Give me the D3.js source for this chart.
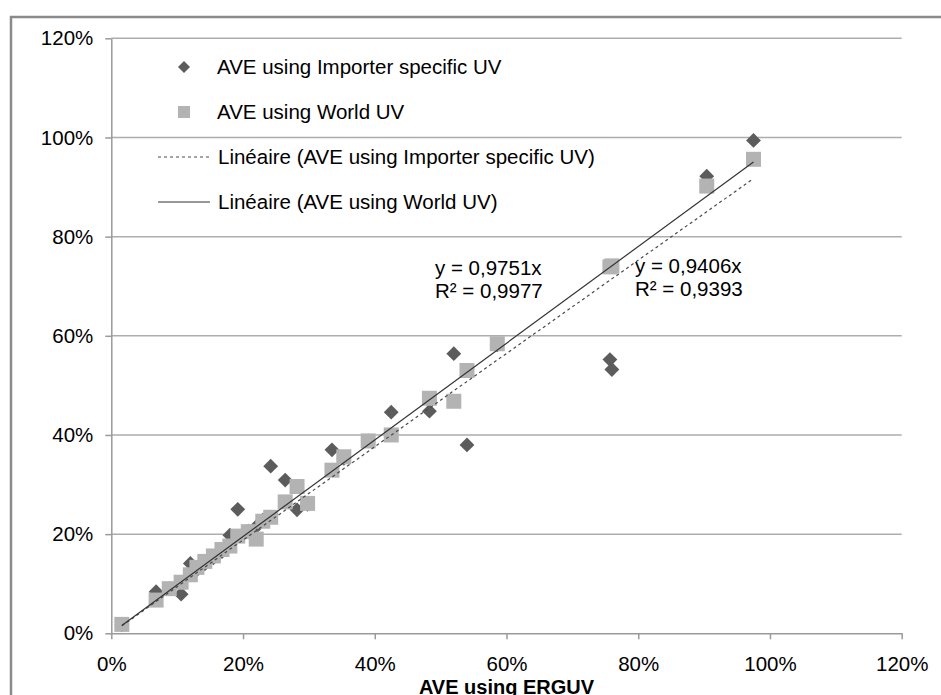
<!DOCTYPE html>
<html>
<head>
<meta charset="utf-8">
<script src="https://cdn.jsdelivr.net/npm/d3@7"></script>
<style>
  body { margin: 0; background: #fff; }
  text { font-family: "Liberation Sans", Arial, sans-serif; fill: #000; }
</style>
</head>
<body>
<script>
// ERGUV based AVE (x) and the two alternative AVEs (y), in %
const erguv      = [1.6, 6.8, 8.8, 10.6, 12.0, 13.0, 14.2, 15.5, 16.8, 18.0, 19.2, 20.8, 22.0, 23.0, 24.2, 26.4, 28.2, 29.8, 33.5, 35.3, 39.0, 42.5, 48.3, 52.0, 54.0, 58.6, 75.7, 76.0, 90.4, 97.5];
const importerUV = [1.7, 8.4, 9.0, 7.9, 14.1, 12.8, 14.0, 15.2, 16.5, 19.8, 25.0, 20.6, 21.5, 22.8, 33.7, 30.9, 24.9, 26.0, 37.0, 35.3, 38.8, 44.6, 44.8, 56.4, 38.0, 58.2, 55.2, 53.2, 92.2, 99.4];
const worldUV    = [1.8, 6.7, 9.0, 10.3, 11.8, 13.3, 14.5, 15.6, 16.9, 17.6, 19.6, 20.5, 19.0, 22.6, 23.4, 26.5, 29.6, 26.2, 32.9, 35.6, 38.8, 40.0, 47.4, 46.8, 53.0, 58.4, 73.9, 74.1, 90.2, 95.6];

const xTicks = [0, 20, 40, 60, 80, 100, 120];
const yTicks = [0, 20, 40, 60, 80, 100, 120];

// linear trendlines through the origin, as printed on the chart
const trendSlopes = [0.9406, 0.9751];
const trendLabels = [["y = 0,9406x", "R² = 0,9393"], ["y = 0,9751x", "R² = 0,9977"]];

const seriesNames = ["AVE using Importer specific UV", "AVE using World UV"];
const trendNames = ["Linéaire (AVE using Importer specific UV)", "Linéaire (AVE using World UV)"];

const width = 941, height = 695;

const svg = d3.select('body')
  .append('svg')
  .attr('width', width)
  .attr('height', height);

// outer chart frame
svg.append('rect')
  .attr('x', 11).attr('y', 17)
  .attr('width', width + 20).attr('height', height + 20)
  .attr('fill', 'none')
  .attr('stroke', '#8a8a8a')
  .attr('stroke-width', 2.5);

const x = d3.scaleLinear().domain([0, 120]).range([111.3, 901.7]);
const y = d3.scaleLinear().domain([0, 120]).range([633.3, 38.3]);

// horizontal gridlines
svg.append('g')
  .selectAll('line')
  .data(yTicks.filter(d => d > 0))
  .join('line')
  .attr('x1', x(0)).attr('x2', x(120))
  .attr('y1', d => y(d)).attr('y2', d => y(d))
  .attr('stroke', '#adadad')
  .attr('stroke-width', 1.5);

const xAxis = svg.append('g')
  .attr('transform', `translate(0,${y(0)})`)
  .call(d3.axisBottom(x).tickValues(xTicks).tickFormat(d => d + '%').tickSizeInner(6).tickSizeOuter(0).tickPadding(17));

const yAxis = svg.append('g')
  .attr('transform', `translate(${x(0)},0)`)
  .call(d3.axisLeft(y).tickValues(yTicks).tickFormat(d => d + '%').tickSizeInner(6).tickSizeOuter(0).tickPadding(12));

[xAxis, yAxis].forEach(a => {
  a.select('.domain').attr('stroke', '#9a9a9a').attr('stroke-width', 1.5);
  a.selectAll('.tick line').attr('stroke', '#9a9a9a').attr('stroke-width', 1.5);
  a.selectAll('.tick text')
    .attr('font-family', '"Liberation Sans", Arial, sans-serif')
    .attr('font-size', 20.5)
    .attr('fill', '#1a1a1a');
});

svg.append('text')
  .attr('x', x(60))
  .attr('y', 694)
  .attr('text-anchor', 'middle')
  .attr('font-size', 20)
  .attr('font-weight', 'bold')
  .text('AVE using ERGUV');

const points = erguv.map((v, i) => ({ x: v, imp: importerUV[i], world: worldUV[i] }));

// importer specific UV: dark diamonds
svg.append('g')
  .selectAll('path')
  .data(points)
  .join('path')
  .attr('d', d3.symbol(d3.symbolSquare, 110))
  .attr('transform', d => `translate(${x(d.x)},${y(d.imp)}) rotate(45)`)
  .attr('fill', '#5c5c5c');

// world UV: light squares
svg.append('g')
  .selectAll('rect')
  .data(points)
  .join('rect')
  .attr('x', d => x(d.x) - 7.5)
  .attr('y', d => y(d.world) - 7.5)
  .attr('width', 15).attr('height', 15)
  .attr('fill', '#b3b3b3');

// trendlines over the data range
const xMin = d3.min(erguv), xMax = d3.max(erguv);
svg.append('g')
  .selectAll('line')
  .data(trendSlopes)
  .join('line')
  .attr('x1', x(xMin)).attr('y1', s => y(s * xMin))
  .attr('x2', x(xMax)).attr('y2', s => y(s * xMax))
  .attr('stroke', (s, i) => i === 0 ? '#4a4a4a' : '#333')
  .attr('stroke-width', 1.2)
  .attr('stroke-dasharray', (s, i) => i === 0 ? '3,3' : null);

// equation labels
const labelPos = [[635, 273], [435, 275]];
trendLabels.forEach((lines, i) => {
  const t = svg.append('text')
    .attr('x', labelPos[i][0])
    .attr('y', labelPos[i][1])
    .attr('font-size', 20.5);
  lines.forEach((l, j) => {
    t.append('tspan')
      .attr('x', labelPos[i][0])
      .attr('dy', j === 0 ? 0 : 23)
      .text(l);
  });
});

// legend
const legend = svg.append('g');
const legendY = [67, 112, 157, 202];

legend.append('path')
  .attr('d', d3.symbol(d3.symbolSquare, 72))
  .attr('transform', `translate(184,${legendY[0]}) rotate(45)`)
  .attr('fill', '#5c5c5c');
legend.append('rect')
  .attr('x', 178).attr('y', legendY[1] - 6)
  .attr('width', 12).attr('height', 12)
  .attr('fill', '#b3b3b3');

legend.selectAll('line')
  .data(trendNames)
  .join('line')
  .attr('x1', 158).attr('x2', 210)
  .attr('y1', (d, i) => legendY[2 + i]).attr('y2', (d, i) => legendY[2 + i])
  .attr('stroke', (d, i) => i === 0 ? '#4a4a4a' : '#333')
  .attr('stroke-width', 1.2)
  .attr('stroke-dasharray', (d, i) => i === 0 ? '3,3' : null);

legend.selectAll('text')
  .data(seriesNames.concat(trendNames))
  .join('text')
  .attr('x', (d, i) => i < 2 ? 217 : 218)
  .attr('y', (d, i) => legendY[i] + 7)
  .attr('font-size', 20.5)
  .text(d => d);
</script>
</body>
</html>
